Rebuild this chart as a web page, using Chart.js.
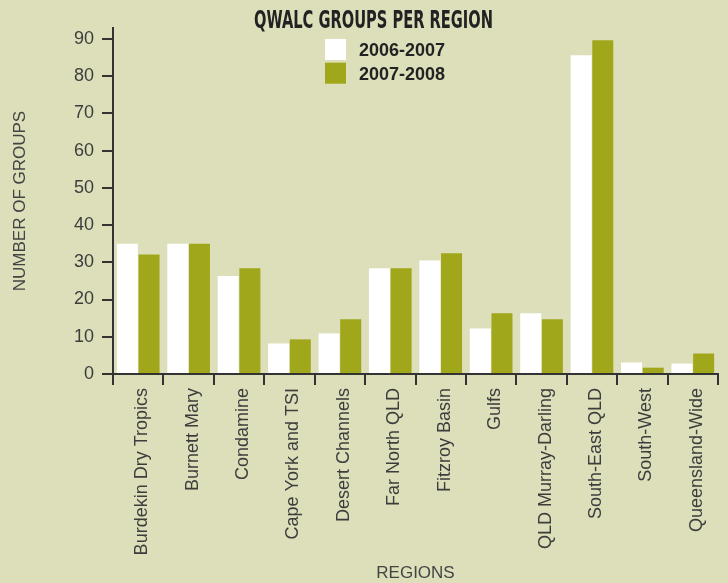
<!DOCTYPE html>
<html>
<head>
<meta charset="utf-8">
<title>QWALC groups per region</title>
<script src="https://cdn.jsdelivr.net/npm/chart.js@4.4.1/dist/chart.umd.min.js"></script>
<style>
  html, body { margin: 0; padding: 0; background: #dcdfb9; }
  #wrap { width: 728px; height: 583px; }
</style>
</head>
<body>
<div id="wrap"><canvas id="regionChart" width="728" height="583"></canvas></div>
<script>
// values (number of groups)
const regions = [
    'Burdekin Dry Tropics', 'Burnett Mary', 'Condamine', 'Cape York and TSI',
    'Desert Channels', 'Far North QLD', 'Fitzroy Basin', 'Gulfs',
    'QLD Murray-Darling', 'South-East QLD', 'South-West', 'Queensland-Wide'
];
const groups0607 = [35, 35, 26.3, 8.2, 10.9, 28.4, 30.5, 12.2, 16.3, 85.6, 3.1, 2.8];
const groups0708 = [32.1, 35, 28.4, 9.3, 14.7, 28.4, 32.4, 16.3, 14.7, 89.6, 1.7, 5.5];
const seriesLabels = ['2006-2007', '2007-2008'];
const titleText = 'QWALC GROUPS PER REGION';

const INK = '#333333';
const GREEN = '#a1a71a';

// heavy condensed title, squeezed and stretched to look like the print face
const titlePlugin = {
    id: 'printTitle',
    afterDraw(chart) {
        const c = chart.ctx;
        c.save();
        c.translate(373.5, 21.5);
        c.scale(0.835, 1.25);
        c.font = 'bold 19.5px "DejaVu Sans Condensed", "Liberation Sans Narrow", sans-serif';
        c.fillStyle = '#222222';
        c.textAlign = 'center';
        c.textBaseline = 'middle';
        c.fillText(titleText, 0, 0);
        c.restore();
    }
};

// legend sits inside the plot, under the title
const boxLegend = {
    id: 'boxLegend',
    afterDraw(chart) {
        const c = chart.ctx;
        c.save();
        c.font = 'bold 18px "Liberation Sans", Arial, sans-serif';
        c.textBaseline = 'middle';
        chart.data.datasets.forEach((ds, i) => {
            const y = 39 + i * 23.7;
            c.fillStyle = ds.backgroundColor;
            c.fillRect(325, y, 21, 21);
            c.fillStyle = '#222222';
            c.fillText(ds.label, 359, y + 12);
        });
        c.restore();
    }
};

new Chart(document.getElementById('regionChart'), {
    type: 'bar',
    data: {
        labels: regions,
        datasets: [
            { label: seriesLabels[0], data: groups0607, backgroundColor: '#ffffff' },
            { label: seriesLabels[1], data: groups0708, backgroundColor: GREEN }
        ]
    },
    options: {
        responsive: false,
        animation: false,
        categoryPercentage: 0.86,
        barPercentage: 0.97,
        layout: { padding: { top: 28, right: 10, left: 0, bottom: 0 } },
        plugins: {
            legend: { display: false },
            title: { display: false },
            tooltip: { enabled: false }
        },
        scales: {
            x: {
                afterFit: (s) => { s.height = 209; },
                border: { display: true, color: INK, width: 2 },
                grid: { display: true, drawOnChartArea: false, drawTicks: true, tickLength: 11, color: INK, lineWidth: 2, offset: true },
                ticks: {
                    autoSkip: false,
                    minRotation: 90,
                    maxRotation: 90,
                    padding: 3,
                    labelOffset: 4,
                    color: '#3d3d3d',
                    font: { family: '"Liberation Sans", Arial, sans-serif', size: 18 }
                },
                title: {
                    display: true,
                    text: 'REGIONS',
                    color: '#444444',
                    padding: { top: 0, bottom: 0 },
                    font: { family: '"Liberation Sans", Arial, sans-serif', size: 17, lineHeight: 1.1 }
                }
            },
            y: {
                min: 0,
                max: 92.9,
                afterFit: (s) => { s.width = 113; },
                border: { display: true, color: INK, width: 2 },
                grid: { display: true, drawOnChartArea: false, drawTicks: true, tickLength: 11, color: INK, lineWidth: 2 },
                ticks: {
                    stepSize: 10,
                    includeBounds: false,
                    padding: 8,
                    color: '#3d3d3d',
                    font: { family: '"Liberation Sans", Arial, sans-serif', size: 18 }
                },
                title: {
                    display: true,
                    text: 'NUMBER OF GROUPS',
                    color: '#444444',
                    padding: { top: 10, bottom: 0 },
                    font: { family: '"Liberation Sans", Arial, sans-serif', size: 17, lineHeight: 1.2 }
                }
            }
        }
    },
    plugins: [titlePlugin, boxLegend]
});
</script>
</body>
</html>
